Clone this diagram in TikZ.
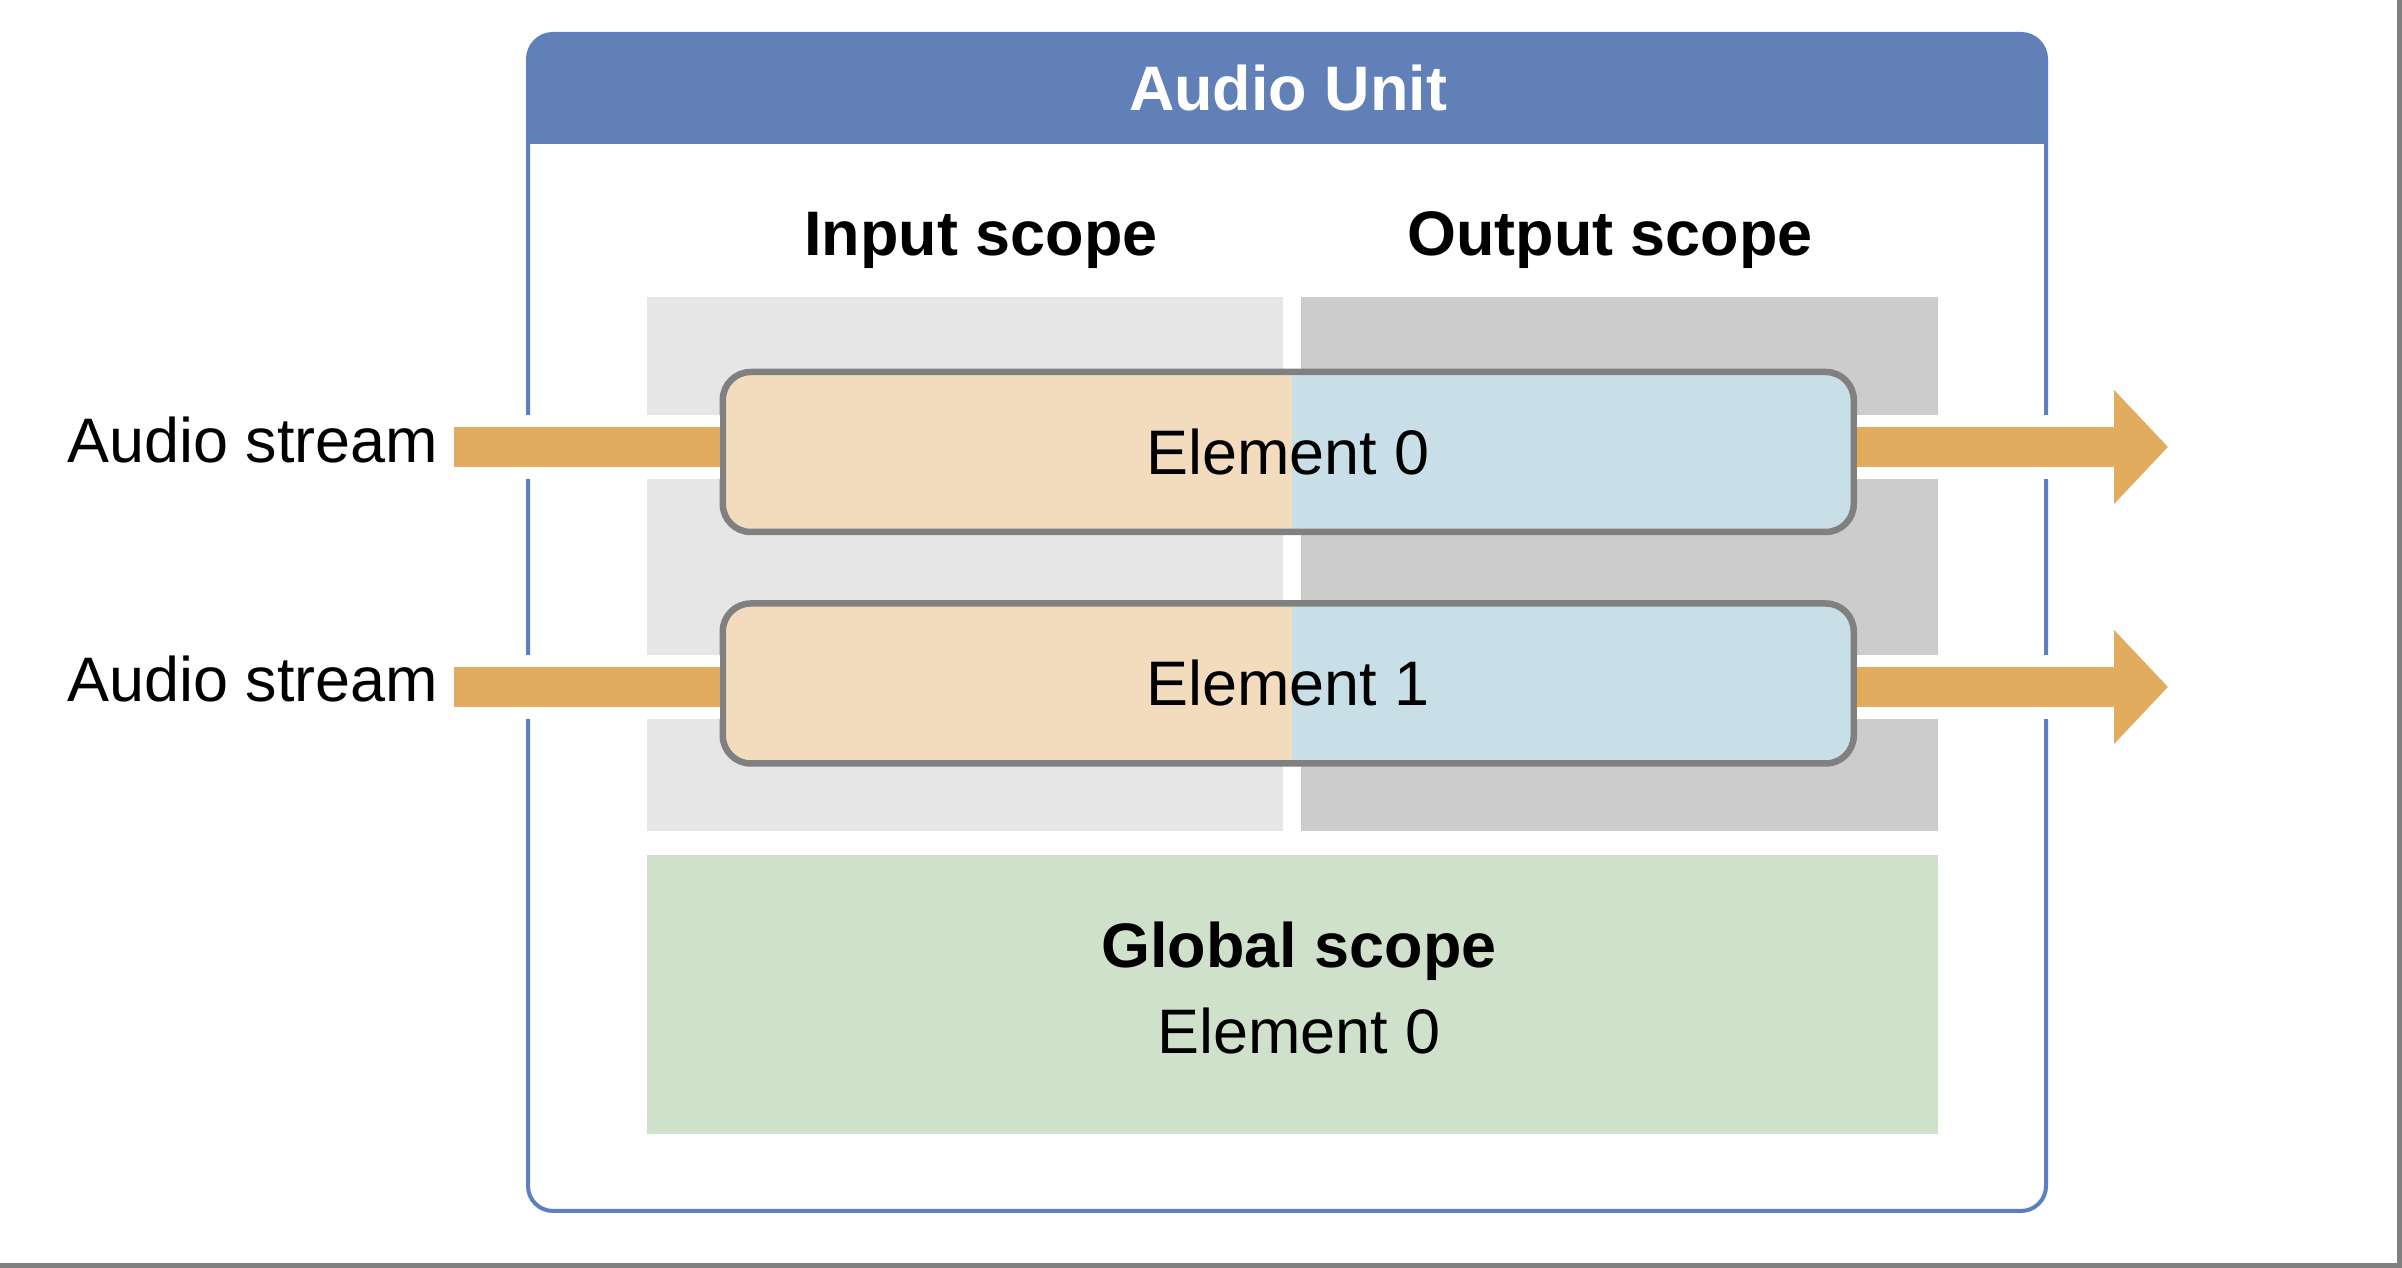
\documentclass[tikz,border=0pt]{standalone}
\usepackage{fontspec}
\setmainfont{Liberation Sans}
\usetikzlibrary{arrows.meta}
\definecolor{unitblue}{HTML}{6180B8}
\definecolor{unitline}{HTML}{5B7EC4}
\definecolor{inscope}{HTML}{E6E6E6}
\definecolor{outscope}{HTML}{CCCCCC}
\definecolor{globscope}{HTML}{CFE1CB}
\definecolor{elin}{HTML}{F2DCBD}
\definecolor{elout}{HTML}{C8DFE8}
\definecolor{stream}{HTML}{E2AC5F}
\begin{document}
\begin{tikzpicture}[font=\fontsize{17.9pt}{21pt}\selectfont,
    heading/.style={font=\fontsize{17.9pt}{21pt}\selectfont\bfseries},
    element/.style={draw=black!50, line width=0.065cm, rounded corners=0.28cm, fill=elout,
      minimum width=11.31cm, minimum height=1.6cm, inner sep=0pt,
      path picture={\fill[elin, sharp corners] (path picture bounding box.south west) rectangle ([xshift=0.04cm]path picture bounding box.north);}},
    halo/.style={white, line width=0.64cm},
    streamline/.style={stream, line width=0.4cm},
    streamarrow/.style={streamline, -{Triangle[length=0.54cm,width=1.11cm]}}]
  \fill[white] (0,0) rectangle (24.02,12.68);
  \fill[black!50] (23.97,0) rectangle (24.02,12.68);
  \fill[black!50] (0,0) rectangle (24.02,0.05);
  \draw[unitline, line width=0.04cm, rounded corners=0.25cm] (5.28,0.57) rectangle (20.46,12.34);
  \fill[unitblue] (5.28,11.24) {[rounded corners=0.25cm] -- (5.28,12.34) -- (20.46,12.34)} -- (20.46,11.24) -- cycle;
  \node[heading, text=white] (unit) at (12.88,11.795) {Audio Unit};
  \node[heading, anchor=base] (inlbl) at (9.81,10.12) {Input scope};
  \node[heading, anchor=base] (outlbl) at (16.10,10.12) {Output scope};
  \fill[inscope] (6.47,4.37) rectangle (12.83,9.71);
  \fill[outscope] (13.01,4.37) rectangle (19.375,9.71);
  \fill[globscope] (6.47,1.34) rectangle (19.375,4.13);
  \node[heading, anchor=base] (glob) at (12.99,3.00) {Global scope};
  \node[anchor=base] (globel) at (12.99,2.14) {Element 0};
  \node[element] (el0) at (12.8825,8.16) {Element 0};
  \node[element] (el1) at (12.8825,5.845) {Element 1};
  \node[anchor=base east, inner sep=0pt] (lbl0) at (4.39,8.05) {Audio stream};
  \node[anchor=base east, inner sep=0pt] (lbl1) at (4.39,5.66) {Audio stream};
  \coordinate (in0) at (4.54,8.21);
  \coordinate (in1) at (4.54,5.81);
  \coordinate (out0) at (21.68,8.21);
  \coordinate (out1) at (21.68,5.81);
  \foreach \i in {0,1} {
    \draw[halo] (in\i) -- (in\i -| el\i.west);
    \draw[halo] (out\i -| el\i.east) -- (out\i);
    \draw[streamline] (in\i) -- (in\i -| el\i.west);
    \draw[streamarrow] (out\i -| el\i.east) -- (out\i);
  }
\end{tikzpicture}
\end{document}
